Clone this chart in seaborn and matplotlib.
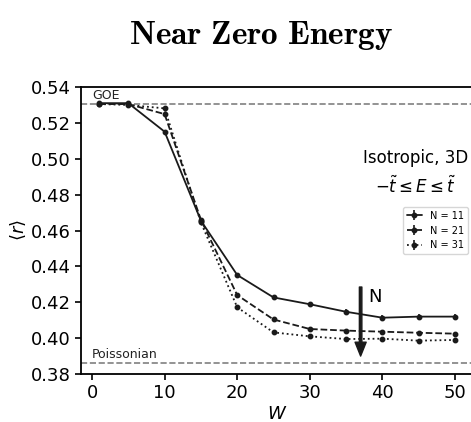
import numpy as np
import seaborn as sns
import matplotlib.pyplot as plt

# disorder strength
W = [1, 5, 10, 15, 20, 25, 30, 35, 40, 45, 50]

# mean level spacing ratio <r> for each system size
r_N11 = [0.5310, 0.5310, 0.5151, 0.4655, 0.4352, 0.4227, 0.4189, 0.4147, 0.4114, 0.4120, 0.4120]
r_N21 = [0.5305, 0.5305, 0.5249, 0.4660, 0.4240, 0.4104, 0.4051, 0.4042, 0.4036, 0.4030, 0.4025]
r_N31 = [0.5305, 0.5300, 0.5281, 0.4645, 0.4172, 0.4032, 0.4010, 0.3995, 0.3997, 0.3986, 0.3990]

# error bars
err_N11 = [0.0005, 0.0005, 0.0008, 0.0010, 0.0012, 0.0013, 0.0013, 0.0014, 0.0014, 0.0014, 0.0014]
err_N21 = [0.0004, 0.0004, 0.0006, 0.0007, 0.0008, 0.0008, 0.0008, 0.0009, 0.0009, 0.0009, 0.0009]
err_N31 = [0.0003, 0.0003, 0.0005, 0.0006, 0.0007, 0.0007, 0.0007, 0.0008, 0.0008, 0.0008, 0.0008]

labels = ["N = 11", "N = 21", "N = 31"]
GOE = 0.5307
POISSON = 0.3863

sns.set_theme(style="ticks")
plt.rcParams['font.family'] = ['DejaVu Sans']
plt.rcParams['mathtext.fontset'] = 'dejavusans'
for key in ['text.color', 'axes.labelcolor', 'xtick.color', 'ytick.color', 'axes.edgecolor']:
    plt.rcParams[key] = 'black'

fig = plt.figure(figsize=(4.71, 4.22), dpi=100)
ax = fig.add_axes([0.173, 0.1137, 0.8308, 0.6801])

series = [(r_N11, err_N11, '-'), (r_N21, err_N21, '--'), (r_N31, err_N31, ':')]
for (r, e, ls), lab in zip(series, labels):
    ax.errorbar(W, r, yerr=e, color='k', ls=ls, lw=1.3, marker='o', markersize=3.2,
                elinewidth=1.2, capsize=0, label=lab)

ax.axhline(GOE, color='gray', ls='--', lw=1.2)
ax.axhline(POISSON, color='gray', ls='--', lw=1.2)
ax.text(0, GOE + 0.0008, "GOE", fontsize=9, va='bottom', ha='left', color='#222222')
ax.text(0, POISSON + 0.0008, "Poissonian", fontsize=9, va='bottom', ha='left', color='#222222')

ax.annotate('', xy=(37, 0.3900), xytext=(37, 0.4285),
            arrowprops=dict(facecolor='k', edgecolor='k', width=1.8, headwidth=8, headlength=10, shrink=0))
ax.text(38.0, 0.4232, "N", fontsize=13, va='center', ha='left')

ax.text(44.6, 0.4920, "Isotropic, 3D\n$-\\tilde{t} \\leq E \\leq \\tilde{t}$", fontsize=12,
        ha='center', va='center', linespacing=1.5)

ax.set_xlim(-1.45, 52.45)
ax.set_ylim(0.38, 0.54)
ax.set_xticks([0, 10, 20, 30, 40, 50])
ax.set_yticks(np.round(np.arange(0.38, 0.541, 0.02), 2))
ax.tick_params(labelsize=13, length=4, width=1.2)
for s in ax.spines.values():
    s.set_linewidth(1.3)
ax.set_xlabel("$W$", fontsize=13, labelpad=2)
ax.set_ylabel(r"$\langle r \rangle$", fontsize=13, labelpad=2)

ax.legend(loc='center right', fontsize=7, handlelength=1.6, frameon=True)

fig.text(0.554, 0.917, r"$\mathbf{Near\ Zero\ Energy}$", fontsize=24, ha='center', va='center',
         math_fontfamily='cm')

fig.savefig("out.png", dpi=100)
